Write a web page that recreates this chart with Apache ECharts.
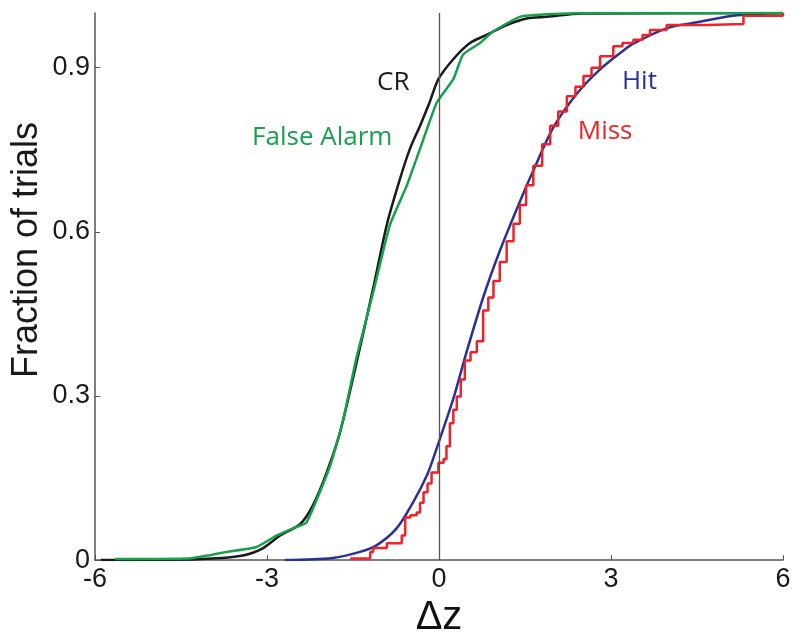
<!DOCTYPE html>
<html>
<head>
<meta charset="utf-8">
<script src="https://cdn.jsdelivr.net/npm/echarts@6/dist/echarts.min.js"></script>
<style>html,body{margin:0;padding:0;background:#fff}#c{width:800px;height:643px}</style>
</head>
<body>
<div id="c"></div>
<script>
// Correct Rejection (black)
const crZ = [-5.9, -4.5, -3.8, -3.4, -3.1, -2.77, -2.42, -2.2, -1.96, -1.73, -1.44, -1.146, -0.91, -0.68, -0.506, -0.33, -0.17, -0.01, 0.245, 0.54, 0.83, 1.18, 1.53, 1.88, 2.5, 6];
const crF = [0, 0.001, 0.004, 0.009, 0.02, 0.045, 0.066, 0.1, 0.16, 0.232, 0.36, 0.498, 0.613, 0.697, 0.752, 0.794, 0.835, 0.879, 0.915, 0.945, 0.96, 0.978, 0.99, 0.993, 0.999, 1];
// False Alarm (green)
const faZ = [-5.65, -4.35, -4.0, -3.7, -3.18, -2.83, -2.55, -2.31, -1.9, -1.67, -1.44, -1.146, -0.855, -0.56, -0.33, -0.04, 0.25, 0.42, 0.715, 0.94, 1.41, 1.99, 2.8, 6];
const faF = [0.002, 0.003, 0.009, 0.015, 0.024, 0.045, 0.058, 0.069, 0.172, 0.257, 0.37, 0.49, 0.613, 0.685, 0.752, 0.836, 0.879, 0.924, 0.945, 0.966, 0.993, 0.998, 1, 1];
// Hit (blue)
const hitZ = [-2.69, -1.85, -1.38, -1.09, -0.74, -0.45, -0.21, -0.07, 0.017, 0.25, 0.48, 0.77, 1.06, 1.41, 1.645, 1.99, 2.4, 2.81, 3.2, 3.39, 3.97, 4.55, 5.13, 6];
const hitF = [0, 0.004, 0.015, 0.027, 0.058, 0.106, 0.155, 0.195, 0.222, 0.295, 0.38, 0.48, 0.565, 0.655, 0.712, 0.79, 0.852, 0.897, 0.93, 0.944, 0.972, 0.984, 0.995, 1];
// Miss (red, stepped)
const missZ = [-1.55, -1.2, -1.15, -0.91, -0.65, -0.59, -0.5, -0.39, -0.33, -0.27, -0.2, -0.13, -0.01, 0.08, 0.13, 0.19, 0.25, 0.31, 0.38, 0.45, 0.55, 0.66, 0.77, 0.86, 0.95, 1.06, 1.18, 1.3, 1.41, 1.52, 1.645, 1.8, 1.94, 2.08, 2.23, 2.38, 2.52, 2.66, 2.81, 3.04, 3.2, 3.39, 3.55, 3.68, 3.97, 4.67, 5.31, 6];
const missF = [0.003, 0.015, 0.022, 0.031, 0.045, 0.078, 0.082, 0.087, 0.105, 0.124, 0.14, 0.16, 0.178, 0.185, 0.208, 0.25, 0.275, 0.299, 0.33, 0.365, 0.38, 0.40, 0.456, 0.48, 0.51, 0.545, 0.583, 0.615, 0.649, 0.685, 0.721, 0.76, 0.794, 0.82, 0.848, 0.865, 0.885, 0.90, 0.921, 0.939, 0.945, 0.951, 0.96, 0.969, 0.978, 0.98, 0.995, 1];

const xTicks = [-6, -3, 0, 3, 6];
const yTicks = [0, 0.3, 0.6, 0.9];

const labelNames = ['CR', 'False Alarm', 'Hit', 'Miss'];
const labelZ = [-1.08, -3.26, 3.19, 2.42];
const labelF = [0.873, 0.772, 0.875, 0.784];
const colors = { cr: '#1a1a1a', fa: '#16a04c', hit: '#2b3192', miss: '#ee2228' };
const labelColors = [colors.cr, colors.fa, colors.hit, colors.miss];

const zip = (a, b) => a.map((v, i) => [v, b[i]]);

const chart = echarts.init(document.getElementById('c'), null, { renderer: 'canvas' });
const axisCol = '#555';
const font = 'Liberation Sans, Arial, sans-serif';
chart.setOption({
  animation: false,
  grid: { left: 95, right: 17, top: 13, bottom: 78, containLabel: false },
  xAxis: {
    type: 'value', min: -6, max: 6, interval: 3,
    name: 'Δz', nameLocation: 'middle', nameGap: 32,
    nameTextStyle: { fontSize: 40, color: '#111', fontFamily: font },
    axisLine: { show: true, onZero: false, lineStyle: { color: axisCol, width: 1.5 } },
    axisTick: { show: true, inside: true, length: 5, customValues: xTicks, lineStyle: { color: axisCol } },
    axisLabel: { customValues: xTicks, fontSize: 27, color: '#1a1a1a', fontFamily: font, margin: 6 },
    splitLine: { show: false }
  },
  yAxis: {
    type: 'value', min: 0, max: 1, interval: 0.3,
    axisLine: { show: true, onZero: false, lineStyle: { color: axisCol, width: 1.5 } },
    axisTick: { show: true, inside: true, length: 5, customValues: yTicks, lineStyle: { color: axisCol } },
    axisLabel: { customValues: yTicks, fontSize: 27, color: '#1a1a1a', fontFamily: font, margin: 5 },
    splitLine: { show: false }
  },
  series: [
    {
      type: 'line', data: zip(hitZ, hitF), showSymbol: false, smooth: 0.3,
      lineStyle: { color: colors.hit, width: 2.5 },
      markLine: {
        silent: true, symbol: ['none', 'none'], label: { show: false },
        lineStyle: { color: axisCol, width: 1.3, type: 'solid' },
        data: [{ xAxis: 0 }]
      }
    },
    { type: 'line', data: zip(missZ, missF), showSymbol: false, step: 'end', lineStyle: { color: colors.miss, width: 2.5 } },
    { type: 'line', data: zip(crZ, crF), showSymbol: false, smooth: 0.3, lineStyle: { color: colors.cr, width: 2.5 } },
    { type: 'line', data: zip(faZ, faF), showSymbol: false, smooth: 0.15, lineStyle: { color: colors.fa, width: 2.5 } }
  ]
});

const g = labelNames.map((t, i) => {
  const p = chart.convertToPixel({ gridIndex: 0 }, [labelZ[i], labelF[i]]);
  return {
    type: 'text', x: p[0], y: p[1],
    style: { text: t, fill: labelColors[i], font: '26px "Open Sans", sans-serif', textAlign: 'left', textVerticalAlign: 'middle' }
  };
});
g.push({
  type: 'text', x: 27, y: 250, rotation: Math.PI / 2,
  style: { text: 'Fraction of trials', fill: '#1a1a1a', font: '36px "Liberation Sans", Arial, sans-serif', textAlign: 'center', textVerticalAlign: 'middle' }
});
chart.setOption({ graphic: g });
</script>
</body>
</html>
